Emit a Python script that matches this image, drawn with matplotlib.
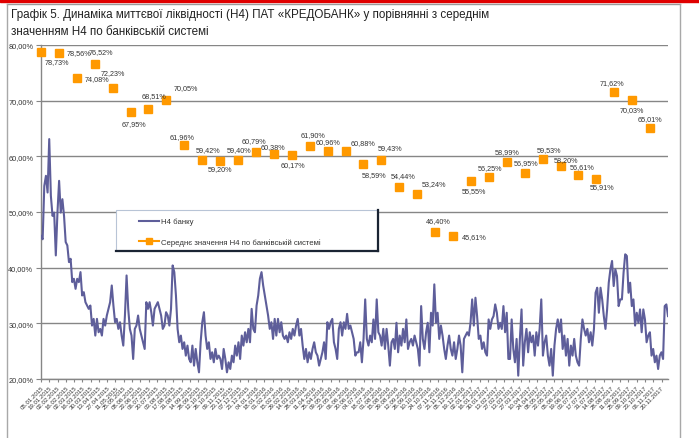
import matplotlib
matplotlib.use("Agg")
import matplotlib.pyplot as plt
from matplotlib.lines import Line2D
from matplotlib.patches import Rectangle
import numpy as np
import pandas as pd

plt.rcParams["font.family"] = ["Liberation Sans", "DejaVu Sans"]

TITLE = ("Графік 5. Динаміка миттєвої ліквідності (Н4) ПАТ «КРЕДОБАНК» у порівнянні з середнім\n"
         "значенням Н4 по банківській системі")
BANK_LABEL = "Н4 банку"
SYSTEM_LABEL = "Середнє значення Н4 по банківській системі"

# daily Н4 of the bank, %
h4_bank = [
    45.7, 45.1, 54.7, 56.5, 53.5, 63.1, 52.9, 49.3, 49.9, 42.2, 49.9, 55.6, 49.9, 52.3, 49.3,
    44.6, 44.0, 41.0, 41.6, 37.4, 38.0, 36.2, 38.0, 37.4, 39.2, 35.0, 35.6, 33.8, 33.2, 32.6,
    33.2, 29.6, 30.8, 27.8, 30.8, 28.4, 29.0, 27.8, 30.8, 29.6, 31.4, 32.6, 33.8, 36.8, 33.2,
    30.2, 30.8, 29.0, 30.2, 27.8, 26.0, 31.4, 38.6, 32.6, 29.0, 27.8, 23.6, 29.0, 29.6, 31.4,
    29.0, 27.8, 26.6, 25.4, 33.8, 32.6, 33.8, 32.0, 29.6, 32.6, 33.2, 33.8, 32.6, 31.4, 29.0,
    29.6, 32.0, 31.4, 29.6, 32.6, 40.4, 39.2, 35.0, 29.0, 26.6, 27.8, 25.4, 26.6, 24.2, 26.0,
    23.6, 23.0, 26.0, 22.4, 25.4, 23.0, 21.2, 26.6, 30.2, 32.0, 27.8, 25.4, 26.6, 23.6, 24.8,
    23.0, 25.4, 23.6, 24.2, 23.6, 21.8, 25.4, 23.6, 21.2, 23.0, 21.8, 24.2, 23.0, 26.0, 24.2,
    26.6, 23.6, 27.8, 26.0, 28.4, 26.6, 29.0, 26.6, 32.6, 29.0, 28.4, 33.2, 35.0, 38.0, 39.2,
    36.8, 35.0, 33.2, 31.4, 29.0, 30.2, 27.2, 30.8, 27.8, 30.8, 28.4, 30.2, 27.8, 27.2, 27.8,
    26.6, 28.4, 27.2, 29.0, 27.8, 29.6, 30.8, 27.8, 29.0, 26.0, 23.6, 25.4, 23.0, 24.8, 23.6,
    25.4, 26.6, 24.8, 24.2, 22.4, 23.6, 24.8, 26.6, 23.6, 30.2, 29.0, 30.2, 30.8, 26.6, 25.4,
    23.6, 29.0, 30.2, 27.8, 30.2, 29.0, 31.7, 29.0, 29.6, 28.4, 27.2, 24.2, 24.8,
    24.8, 26.6, 23.0, 27.2, 34.3, 27.2, 26.0, 27.8, 26.6, 30.7, 27.2, 34.3, 28.4, 27.8, 26.0,
    29.0, 25.4, 29.0, 26.0, 22.4, 26.6, 27.2, 25.4, 30.1, 24.8, 27.8, 26.0, 29.0, 26.6, 30.7,
    25.4, 26.6, 27.2, 26.0, 27.8, 26.6, 25.4, 22.4, 33.1, 27.2, 25.4, 28.4, 30.1, 24.8, 31.9,
    29.6, 37.0, 30.1, 31.9, 27.2, 29.6, 27.8, 25.4, 23.6, 26.0, 27.8, 25.4, 24.2, 26.6, 23.6,
    25.4, 27.8, 26.0, 21.2, 27.2, 27.8, 28.4, 27.8, 30.1, 34.3, 29.6, 34.6, 31.3, 27.2, 27.8,
    25.4, 26.6, 24.8, 24.2, 30.7, 29.0, 30.7, 31.3, 33.4, 31.9, 29.0, 30.1, 29.0, 33.1, 28.4,
    31.9, 23.6, 23.6, 30.7, 25.4, 23.0, 27.2, 20.6, 27.2, 32.5, 22.4, 26.6, 29.0, 24.8, 28.4,
    26.6, 27.8, 24.2, 28.4, 26.0, 29.0, 34.3, 24.2, 26.6, 27.8, 24.2, 22.4, 25.4, 20.6, 26.0,
    29.0, 30.7, 28.4, 30.7, 25.4, 27.8, 24.2, 27.2, 22.4, 26.0, 24.2, 27.2, 24.2, 23.0, 22.4,
    27.2, 30.7, 29.0, 27.8, 29.0, 26.6, 28.4, 26.0, 29.0, 35.5, 36.4, 31.9, 36.4, 34.3, 31.3,
    29.0, 32.5, 37.3, 39.7, 41.2, 36.7, 39.7, 38.5, 33.1, 34.3, 34.3, 39.1, 42.4, 42.1, 35.5,
    37.3, 33.1, 34.3, 29.6, 31.9, 30.1, 32.5, 28.4, 32.5, 30.7, 26.6, 27.8, 28.4, 24.2, 25.4,
    23.0, 24.2, 21.8, 24.2, 24.8, 23.6, 33.1, 33.4, 31.3,
]

# monthly average Н4 of the banking system, %
h4_system = [
    78.73, 78.56, 74.08, 76.52, 72.23, 67.95, 68.51, 70.05, 61.96, 59.42,
    59.20, 59.40, 60.79, 60.38, 60.17, 61.90, 60.96, 60.88, 58.59, 59.43,
    54.44, 53.24, 46.40, 45.61, 55.55, 56.25, 58.99, 56.95, 59.53, 58.20,
    56.61, 55.91, 71.62, 70.03, 65.01,
]

# label offsets from the marker, in pixels (right, down)
label_offsets = [
    (16, 9), (20, 0), (20, 1), (6, -13), (0, -16), (3, 11), (6, -13), (19, -13), (-2, -9), (6, -10),
    (0, 8), (1, -10), (-2, -11), (-1, -8), (1, 9), (3, -11), (0, -9), (17, -9), (11, 10), (9, -12),
    (4, -12), (17, -10), (3, -11), (21, 0), (3, 9), (1, -10), (0, -10), (1, -11), (6, -9), (5, -7),
    (4, -9), (6, 7), (-2, -9), (0, 9), (0, -10),
]

n_months = 35
tick_step = 10 / 21.65  # a tick every 10 business days, in months
tick_labels = [d.strftime("%d.%m.%Y") for d in pd.bdate_range("2015-01-05", periods=76, freq="10B")]

W, H = 699, 439
fig = plt.figure(figsize=(W / 100, H / 100), dpi=100)
fig.patch.set_facecolor("white")

# outer frame
fig.patches.append(Rectangle((0, 1 - 3 / H), 1, 3 / H, transform=fig.transFigure,
                             color="#E00000", zorder=0))
fig.add_artist(Line2D([7 / W, 680 / W], [1 - 5 / H, 1 - 5 / H], transform=fig.transFigure,
                      color="#9a9a9a", lw=1))
fig.add_artist(Line2D([7 / W, 7 / W], [0, 1 - 5 / H], transform=fig.transFigure,
                      color="#a8a8a8", lw=1))
fig.add_artist(Line2D([680 / W, 680 / W], [0, 1 - 5 / H], transform=fig.transFigure,
                      color="#a8a8a8", lw=1))

fig.text(11 / W, 1 - 9 / H, TITLE, ha="left", va="top", fontsize=8.4, color="#222222",
         linespacing=1.55)

ax = fig.add_axes([41 / W, 1 - 380 / H, 627 / W, 334 / H])
x_line = np.linspace(0, n_months, len(h4_bank))
x_mark = np.arange(n_months)
ax.plot(x_line, h4_bank, color="#5E5E9A", lw=1.5, zorder=3)
ax.plot(x_mark, h4_system, ls="none", marker="s", ms=6.3, color="#FF9900",
        zorder=4, clip_on=False)

for xm, v, (dx, dy) in zip(x_mark, h4_system, label_offsets):
    ax.annotate(f"{v:.2f}%".replace(".", ","), (xm, v), xytext=(dx, -dy),
                textcoords="offset pixels", ha="center", va="center",
                fontsize=5.2, color="#333333", zorder=5)

ax.set_xlim(0, n_months)
ax.set_ylim(20, 80)
yt = np.arange(20, 81, 10)
ax.set_yticks(yt)
ax.set_yticklabels([f"{v:.2f}%".replace(".", ",") for v in yt], fontsize=5.3, color="#333333")
ax.set_xticks(np.arange(len(tick_labels)) * tick_step)
ax.set_xticklabels(tick_labels, rotation=45, ha="right", rotation_mode="anchor",
                   fontsize=4.4, color="#333333")
ax.tick_params(axis="y", length=3.5, color="#868686", pad=2)
ax.tick_params(axis="x", length=2.5, color="#868686", pad=1.5)
ax.grid(axis="y", color="#868686", lw=1)
ax.set_axisbelow(True)
for side in ("top", "right"):
    ax.spines[side].set_visible(False)
for side in ("left", "bottom"):
    ax.spines[side].set_color("#868686")
    ax.spines[side].set_linewidth(1)

# legend box with a shadow on the right and bottom
bx0, bx1, by0, by1 = 116, 378, 211, 252
fig.patches.append(Rectangle((bx0 / W, 1 - by1 / H), (bx1 - bx0) / W, (by1 - by0) / H,
                             transform=fig.transFigure, facecolor="white",
                             edgecolor="#b8c4d6", lw=0.8, zorder=6))
fig.add_artist(Line2D([bx0 / W, bx1 / W], [1 - by1 / H, 1 - by1 / H], transform=fig.transFigure,
                      color="#1a2433", lw=1.6, zorder=7))
fig.add_artist(Line2D([bx1 / W, bx1 / W], [1 - by1 / H, 1 - by0 / H], transform=fig.transFigure,
                      color="#1a2433", lw=1.6, zorder=7))
handles = [
    Line2D([], [], color="#5E5E9A", lw=1.5),
    Line2D([], [], color="#FF9900", lw=1.5, marker="s", ms=5),
]
leg = fig.legend(handles, [BANK_LABEL, SYSTEM_LABEL], loc="upper left",
                 bbox_to_anchor=(139 / W, 1 - 219 / H), frameon=False, fontsize=5.6,
                 handlelength=2.6, handletextpad=0.2, labelspacing=1.6, borderpad=0,
                 borderaxespad=0, labelcolor="#333333")
leg.set_zorder(8)

fig.savefig("out.png", dpi=100)
